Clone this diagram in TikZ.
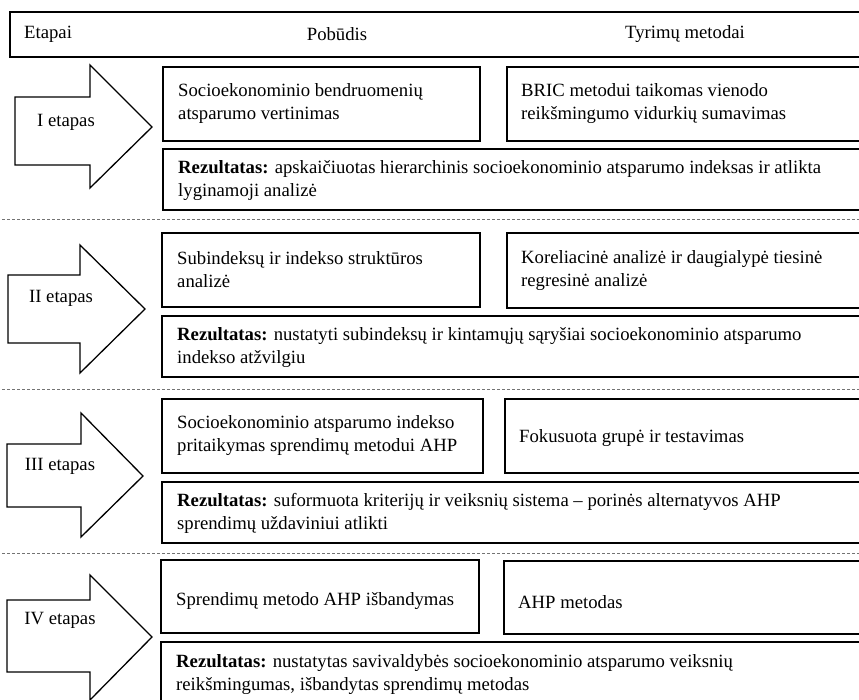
\documentclass[tikz,border=0pt]{standalone}
\usepackage{fontspec}
\setmainfont{Liberation Serif}
% framed box from (x1,y1) to (x2,y2), named #1
\newcommand\panelbox[5]{%
  \node[frame,minimum width=#4pt-#2pt,minimum height=#5pt-#3pt] (#1) at (#2,#3) {};}
\begin{document}
\begin{tikzpicture}[x=1pt,y=-1pt,
  frame/.style={draw=black,line width=1.7pt,inner sep=0pt,outer sep=0pt,anchor=north west},
  txt/.style={font=\fontsize{18.7}{23}\selectfont,align=left,inner sep=0pt,anchor=west},
  stagearrow/.style={draw=black,line width=1.3pt,line join=miter,fill=white},
  sep/.style={draw=black!55,line width=0.9pt,dash pattern=on 3pt off 2pt}]
\useasboundingbox (0,0) rectangle (859,700);
\clip (0,0) rectangle (859,700);

% header row
\panelbox{head}{10}{12}{866}{57}
\node[txt] (hEtapai) at (24,34) {Etapai};
\node[txt,anchor=center] (hPobudis) at (337,34) {Pobūdis};
\node[txt,anchor=center] (hMetodai) at (685,34) {Tyrimų metodai};

% stage arrows
\draw[stagearrow] (15,97) -- (90,97) -- (90,65) -- (152,127) -- (90,188) -- (90,165) -- (15,165) -- cycle;
\node[txt,anchor=center] (a1) at (66,122) {I etapas};
\draw[stagearrow] (8,275) -- (80,275) -- (80,245) -- (145,309) -- (80,373) -- (80,343) -- (8,343) -- cycle;
\node[txt,anchor=center] (a2) at (61,298) {II etapas};
\draw[stagearrow] (7,444) -- (81,444) -- (81,413) -- (143,476) -- (81,537) -- (81,507) -- (7,507) -- cycle;
\node[txt,anchor=center] (a3) at (60,466) {III etapas};
\draw[stagearrow] (7,600) -- (90,600) -- (90,575) -- (152,637) -- (90,700) -- (90,672) -- (7,672) -- cycle;
\node[txt,anchor=center] (a4) at (60,620) {IV etapas};

% stage I
\panelbox{p1}{163}{67}{480}{141}
\panelbox{m1}{507}{67}{866}{141}
\panelbox{r1}{163}{149}{866}{210}
\node[txt] (tp1) at ([xshift=15pt]p1.west) {Socioekonominio bendruomenių\\atsparumo vertinimas};
\node[txt] (tm1) at ([xshift=14pt]m1.west) {BRIC metodui taikomas vienodo\\reikšmingumo vidurkių sumavimas};
\node[txt] (tr1) at ([xshift=15pt,yshift=-1pt]r1.west) {\textbf{Rezultatas:} apskaičiuotas hierarchinis socioekonominio atsparumo indeksas ir atlikta\\lyginamoji analizė};
\draw[sep] (2,219) -- (859,219);

% stage II
\panelbox{p2}{162}{233}{480}{307}
\panelbox{m2}{507}{233}{866}{308}
\panelbox{r2}{162}{316}{866}{377}
\node[txt] (tp2) at ([xshift=15pt]p2.west) {Subindeksų ir indekso struktūros\\analizė};
\node[txt] (tm2) at ([xshift=14pt]m2.west) {Koreliacinė analizė ir daugialypė tiesinė\\regresinė analizė};
\node[txt] (tr2) at ([xshift=15pt,yshift=-1pt]r2.west) {\textbf{Rezultatas:} nustatyti subindeksų ir kintamųjų sąryšiai socioekonominio atsparumo\\indekso atžvilgiu};
\draw[sep] (2,389) -- (859,389);

% stage III
\panelbox{p3}{162}{399}{483}{473}
\panelbox{m3}{505}{399}{866}{473}
\panelbox{r3}{162}{482}{866}{543}
\node[txt] (tp3) at ([xshift=15pt]p3.west) {Socioekonominio atsparumo indekso\\pritaikymas sprendimų metodui AHP};
\node[txt] (tm3) at ([xshift=14pt,yshift=-2pt]m3.west) {Fokusuota grupė ir testavimas};
\node[txt] (tr3) at ([xshift=15pt,yshift=-1pt]r3.west) {\textbf{Rezultatas:} suformuota kriterijų ir veiksnių sistema – porinės alternatyvos AHP\\sprendimų uždaviniui atlikti};
\draw[sep] (2,553) -- (859,553);

% stage IV
\panelbox{p4}{161}{560}{479}{633}
\panelbox{m4}{504}{561}{866}{634}
\panelbox{r4}{161}{642}{866}{720}
\node[txt] (tp4) at ([xshift=15pt,yshift=-5pt]p4.west) {Sprendimų metodo AHP išbandymas};
\node[txt] (tm4) at ([xshift=14pt,yshift=-5pt]m4.west) {AHP metodas};
\node[txt] (tr4) at (176,675) {\textbf{Rezultatas:} nustatytas savivaldybės socioekonominio atsparumo veiksnių\\reikšmingumas, išbandytas sprendimų metodas};
\end{tikzpicture}
\end{document}
